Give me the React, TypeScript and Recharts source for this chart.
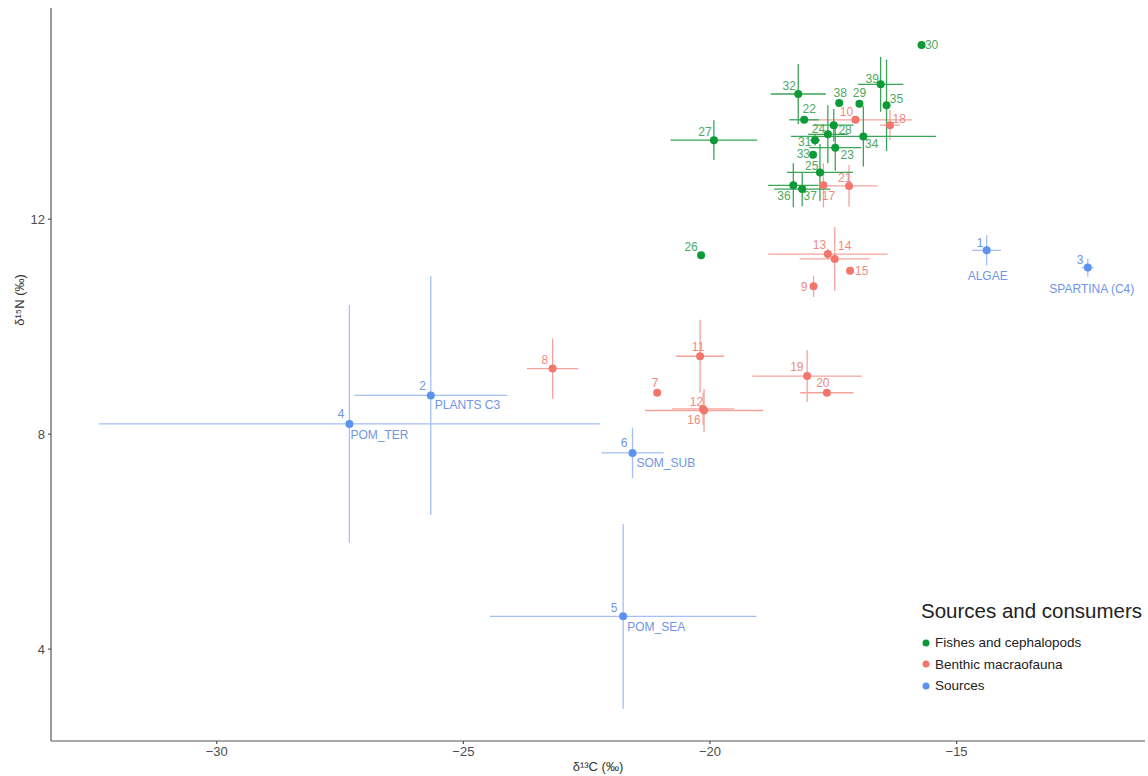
import React from 'react';
import { ScatterChart, Scatter, XAxis, YAxis, ErrorBar, Legend } from 'recharts';

// ---------- data ----------
const sourceIds = [1, 2, 3, 4, 5, 6];
const sourceNames = ['ALGAE', 'PLANTS C3', 'SPARTINA (C4)', 'POM_TER', 'POM_SEA', 'SOM_SUB'];
const sourceC = [-14.39, -25.66, -12.34, -27.31, -21.76, -21.57];
const sourceN = [11.42, 8.72, 11.1, 8.19, 4.61, 7.65];
const sourceSdC = [0.29, 1.55, 0.12, 5.08, 2.7, 0.63];
const sourceSdN = [0.28, 2.22, 0.17, 2.21, 1.72, 0.47];

const benthicIds = [7, 8, 9, 10, 11, 12, 13, 14, 15, 16, 17, 18, 19, 20, 21];
const benthicC = [-21.07, -23.19, -17.9, -17.05, -20.2, -20.14, -17.61, -17.47, -17.16, -20.12, -17.7, -16.35, -18.03, -17.63, -17.18];
const benthicN = [8.77, 9.22, 10.75, 13.85, 9.45, 8.47, 11.35, 11.26, 11.04, 8.44, 12.63, 13.75, 9.08, 8.77, 12.62];
const benthicSdC = [0, 0.52, 0.03, 1.15, 0.49, 0.63, 1.21, 0.71, 0, 1.2, 0.05, 0.2, 1.11, 0.54, 0.57];
const benthicSdN = [0, 0.56, 0.2, 0.05, 0.68, 0.3, 0.1, 0.59, 0, 0.4, 0.41, 0.28, 0.48, 0, 0.39];

const fishIds = [22, 23, 24, 25, 26, 27, 28, 29, 30, 31, 32, 33, 34, 35, 36, 37, 38, 39];
const fishC = [-18.09, -17.46, -17.61, -17.77, -20.18, -19.92, -17.49, -16.97, -15.71, -17.87, -18.21, -17.91, -16.89, -16.42, -18.31, -18.13, -17.38, -16.54];
const fishN = [13.85, 13.33, 13.58, 12.87, 11.33, 13.47, 13.75, 14.15, 15.24, 13.47, 14.33, 13.2, 13.54, 14.12, 12.63, 12.56, 14.16, 14.51];
const fishSdC = [0.3, 0.53, 0.4, 0.67, 0, 0.88, 0.4, 0, 0, 0.1, 0.56, 0.05, 1.47, 0.05, 0.51, 0.57, 0, 0.46];
const fishSdN = [0.05, 0.43, 0.54, 0.53, 0, 0.37, 0.3, 0, 0, 0.1, 0.56, 0.05, 0.56, 0.85, 0.41, 0.32, 0, 0.51];

const xTicks = [-30, -25, -20, -15];
const yTicks = [4, 8, 12];

const legendTitle = 'Sources and consumers';
const legendLabels = ['Fishes and cephalopods', 'Benthic macraofauna', 'Sources'];

// ---------- label placement (styling, not data) ----------
const labelNudge: Record<number, [number, number]> = {
  1: [-6.7, -7.3], 2: [-8.3, -9.3], 3: [-7.7, -8], 4: [-8.3, -9.7], 5: [-9, -8.3], 6: [-8.4, -10],
  7: [-2, -10], 8: [-7.7, -9], 9: [-9.4, 0.7], 10: [-9, -7.6], 11: [-2, -9], 12: [-6.6, -7],
  13: [-8.4, -8.7], 14: [10, -13.3], 15: [11.7, 0], 16: [-10, 9.7], 17: [5, 10.7], 18: [9.3, -6],
  19: [-10.3, -9.3], 20: [-4, -10], 21: [-4.3, -8], 22: [5, -10.3], 23: [12, 7.7], 24: [-9.4, -5],
  25: [-8.3, -6.6], 26: [-10, -8.3], 27: [-9, -8.3], 28: [11.3, 5], 29: [0, -10.6], 30: [10, 0],
  31: [-10.3, 2.3], 32: [-9, -8], 33: [-9.7, -0.3], 34: [8.4, 8], 35: [10, -6.7], 36: [-9.3, 10.7],
  37: [8, 6.7], 38: [1, -10], 39: [-8.4, -5.7],
};
const nameNudge: Record<number, [number, number, 'start' | 'middle']> = {
  1: [1, 26, 'middle'], 2: [4, 10, 'start'], 3: [4, 21, 'middle'], 4: [1, 11, 'start'], 5: [4, 11, 'start'], 6: [4, 10, 'start'],
};

const GREEN = '#0b9a36';
const GREEN_BAR = '#3aa556';
const GREEN_TXT = '#4ea85e';
const RED = '#f2766c';
const RED_BAR = '#f5a39c';
const RED_TXT = '#ee8a82';
const BLUE = '#5e92f2';
const BLUE_BAR = '#a3bff3';
const BLUE_TXT = '#6f95e6';
const FONT = 'Liberation Sans, Arial, sans-serif';

type Row = { id: number; x: number; y: number; sdX: number; sdY: number; name?: string };

const build = (ids: number[], xs: number[], ys: number[], sx: number[], sy: number[], names?: string[]): Row[] =>
  ids.map((id, i) => ({ id, x: xs[i], y: ys[i], sdX: sx[i], sdY: sy[i], name: names ? names[i] : undefined }));

const sources = build(sourceIds, sourceC, sourceN, sourceSdC, sourceSdN, sourceNames);
const benthic = build(benthicIds, benthicC, benthicN, benthicSdC, benthicSdN);
const fishes = build(fishIds, fishC, fishN, fishSdC, fishSdN);

const makeShape = (dot: string, txt: string) => (props: any) => {
  const { cx, cy, payload } = props;
  if (cx == null || cy == null) return <g />;
  const [dx, dy] = labelNudge[payload.id] ?? [-8, -8];
  const nn = payload.name ? nameNudge[payload.id] : null;
  return (
    <g>
      <circle cx={cx} cy={cy} r={4} fill={dot} />
      <text x={cx + dx} y={cy + dy} textAnchor="middle" dominantBaseline="central" fontSize={12} fontFamily={FONT} fill={txt}>
        {payload.id}
      </text>
      {nn && (
        <text x={cx + nn[0]} y={cy + nn[1]} textAnchor={nn[2]} dominantBaseline="central" fontSize={12} fontFamily={FONT} fill={txt}>
          {payload.name}
        </text>
      )}
    </g>
  );
};

const fmt = (v: number) => String(v).replace('-', '\u2212');

const LegendBox = () => {
  const colors = [GREEN, RED, BLUE];
  return (
    <div style={{ fontFamily: FONT, color: '#222' }}>
      <div style={{ fontSize: 20.5, lineHeight: '26px', whiteSpace: 'nowrap' }}>{legendTitle}</div>
      <div style={{ marginTop: 8 }}>
        {legendLabels.map((l, i) => (
          <div key={l} style={{ display: 'flex', alignItems: 'center', height: 21.5, fontSize: 13.5, whiteSpace: 'nowrap' }}>
            <svg width={12} height={12} style={{ marginRight: 2 }}>
              <circle cx={5} cy={6} r={3.5} fill={colors[i]} />
            </svg>
            {l}
          </div>
        ))}
      </div>
    </div>
  );
};

export default function App() {
  const axisColor = '#555';
  const tickStyle = { fontSize: 13, fill: '#4d4d4d', fontFamily: FONT };
  return (
    <div style={{ position: 'absolute', left: 0, top: 0, width: 1148, height: 776, background: '#fff' }}>
      <ScatterChart width={1148} height={776} margin={{ top: 8, right: 3, bottom: 0, left: 0 }}>
        <XAxis
          type="number"
          dataKey="x"
          domain={[-33.36, -11.18]}
          allowDataOverflow
          ticks={xTicks}
          tickFormatter={fmt}
          height={35}
          tickSize={3}
          tickMargin={3}
          stroke={axisColor}
          strokeWidth={1.2}
          tick={tickStyle}
          label={{
            content: () => (
              <text x={598} y={766} textAnchor="middle" dominantBaseline="central" fontSize={13} fontFamily={FONT} fill="#333">
                δ¹³C (‰)
              </text>
            ),
          }}
        />
        <YAxis
          type="number"
          dataKey="y"
          domain={[2.29, 15.93]}
          allowDataOverflow
          ticks={yTicks}
          width={51}
          tickSize={3}
          tickMargin={3}
          stroke={axisColor}
          strokeWidth={1.2}
          tick={tickStyle}
          label={{
            content: () => (
              <text x={19} y={300} transform="rotate(-90 19 300)" textAnchor="middle" dominantBaseline="central" fontSize={13} fontFamily={FONT} fill="#333">
                δ¹⁵N (‰)
              </text>
            ),
          }}
        />
        <Legend
          layout="vertical"
          align="center"
          verticalAlign="middle"
          content={() => <LegendBox />}
          wrapperStyle={{ left: 921, top: 598, width: 230 }}
        />
        <Scatter data={sources} isAnimationActive={false} shape={makeShape(BLUE, BLUE_TXT)} legendType="none">
          <ErrorBar dataKey="sdX" direction="x" width={0} stroke={BLUE_BAR} strokeWidth={1.3} />
          <ErrorBar dataKey="sdY" direction="y" width={0} stroke={BLUE_BAR} strokeWidth={1.3} />
        </Scatter>
        <Scatter data={benthic} isAnimationActive={false} shape={makeShape(RED, RED_TXT)} legendType="none">
          <ErrorBar dataKey="sdX" direction="x" width={0} stroke={RED_BAR} strokeWidth={1.3} />
          <ErrorBar dataKey="sdY" direction="y" width={0} stroke={RED_BAR} strokeWidth={1.3} />
        </Scatter>
        <Scatter data={fishes} isAnimationActive={false} shape={makeShape(GREEN, GREEN_TXT)} legendType="none">
          <ErrorBar dataKey="sdX" direction="x" width={0} stroke={GREEN_BAR} strokeWidth={1.3} />
          <ErrorBar dataKey="sdY" direction="y" width={0} stroke={GREEN_BAR} strokeWidth={1.3} />
        </Scatter>
      </ScatterChart>
    </div>
  );
}
